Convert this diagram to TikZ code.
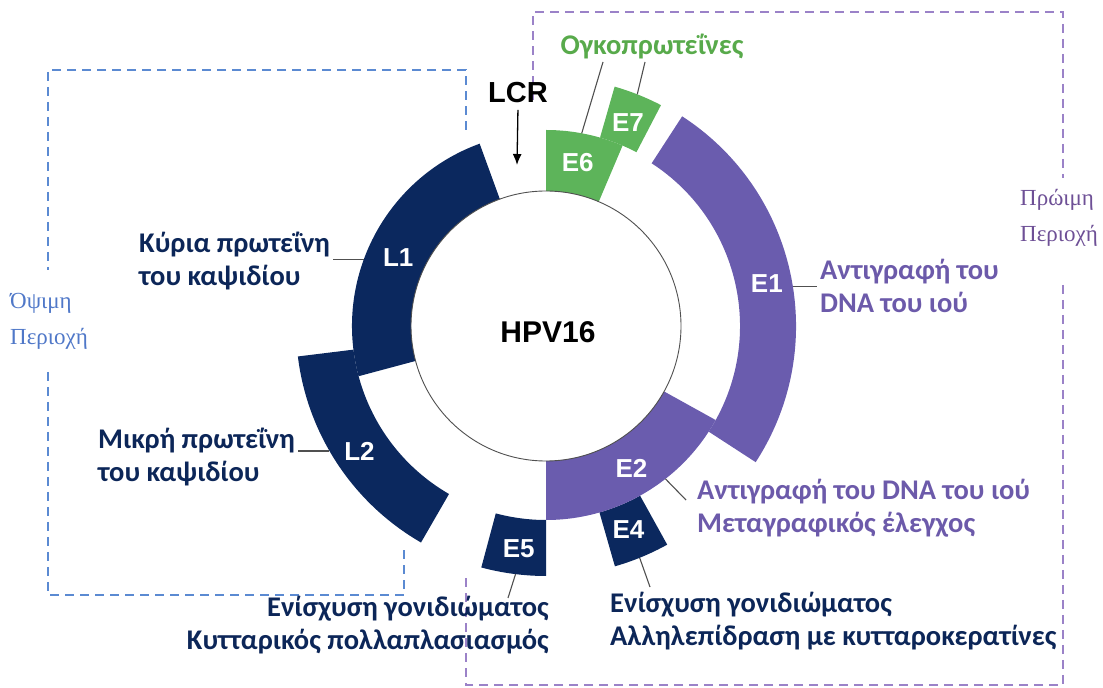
\documentclass[tikz,border=0pt]{standalone}
\usepackage{fontspec}
\setmainfont{Carlito}
\newfontfamily\arialfont{Liberation Sans}
\newfontfamily\timesfont{Liberation Serif}
\usepackage{tikz}
\usetikzlibrary{arrows,arrows.meta,positioning}

\definecolor{ringnavy}{RGB}{11,40,94}
\definecolor{ringpurple}{RGB}{106,92,174}
\definecolor{ringgreen}{RGB}{93,180,90}
\definecolor{txtnavy}{RGB}{12,38,88}
\definecolor{txtpurple}{RGB}{108,90,170}
\definecolor{txtgreen}{RGB}{88,170,75}
\definecolor{regblue}{RGB}{91,138,210}
\definecolor{regpurple}{RGB}{155,130,200}
\definecolor{regblutxt}{RGB}{80,120,200}
\definecolor{regpurtxt}{RGB}{110,80,150}
\definecolor{leadgray}{RGB}{80,80,80}

% one gene block of the ring: colour, start, end, inner r, outer r
\newcommand{\genearc}[5]{\fill[#1] (#2:#4) arc[start angle=#2,end angle=#3,radius=#4] -- (#3:#5) arc[start angle=#3,end angle=#2,radius=#5] -- cycle;}

\begin{document}
\begin{tikzpicture}[x=1pt,y=1pt,
  leader/.style={draw=leadgray,line width=1.1pt},
  ringlbl/.style={text=white,font=\arialfont\bfseries\fontsize{26}{30}\selectfont,inner sep=0pt},
  lbl/.style={font=\bfseries\fontsize{28.5}{33}\selectfont,inner sep=3pt},
  region/.style={font=\timesfont\fontsize{23}{36}\selectfont,align=left,inner sep=0pt},
  bluedash/.style={draw=regblue,line width=2pt,dash pattern=on 9pt off 6pt},
  purpdash/.style={draw=regpurple,line width=2pt,dash pattern=on 9pt off 6pt}]
\useasboundingbox (0,0) rectangle (1103,688);

% late and early regions
\draw[bluedash] (466,558) -- (466,618) -- (48,618) -- (48,418);
\draw[bluedash] (48,316) -- (48,93) -- (404,93) -- (404,143);
\draw[purpdash] (533,588) -- (533,676) -- (1063,676) -- (1063,510);
\draw[purpdash] (1063,403) -- (1063,3) -- (466,3) -- (466,113);
\node[region,text=regblutxt,anchor=west] (late) at (10,367) {Όψιμη\\Περιοχή};
\node[region,text=regpurtxt,anchor=west] (early) at (1020,470) {Πρώιμη\\Περιοχή};

% genome ring
\begin{scope}[shift={(546,362)}]
\fill[white] (0,0) circle (135);
\genearc{ringnavy}{110}{195}{135}{194}
\genearc{ringnavy}{187}{240}{194}{250}
\genearc{ringnavy}{255}{270}{194}{250}
\genearc{ringnavy}{286}{299}{194}{250}
\genearc{ringpurple}{270}{331}{135}{194}
\genearc{ringpurple}{-33}{57}{194}{250}
\genearc{ringgreen}{67}{90}{135}{196}
\genearc{ringgreen}{62.5}{74}{196}{249}
\draw[leadgray,line width=0.9pt] (0,0) circle (135);
\node[font=\arialfont\bfseries\fontsize{30}{32}\selectfont] (hpv) at (2,-6) {HPV16};
\node[ringlbl] (l1) at (155:163) {L1};
\node[ringlbl] (l2) at (214:225) {L2};
\node[ringlbl] (e5) at (263:224) {E5};
\node[ringlbl] (e4) at (292:220) {E4};
\node[ringlbl] (e2) at (301:166) {E2};
\node[ringlbl] (e1) at (11:225) {E1};
\node[ringlbl] (e6) at (79:166) {E6};
\node[ringlbl] (e7) at (68:219) {E7};
\coordinate (l1o) at (160:194);
\coordinate (l2o) at (210:250);
\coordinate (e5o) at (263:250);
\coordinate (e4o) at (292:250);
\coordinate (e2o) at (308:194);
\coordinate (e1o) at (9:250);
\coordinate (e6o) at (79.5:196);
\coordinate (e7o) at (68.5:249);
\end{scope}

% labels
\node[lbl,text=txtnavy,align=left,anchor=west] (kyria) at (136,427) {Κύρια πρωτεΐνη\\του καψιδίου};
\node[lbl,text=txtnavy,align=left,anchor=west] (mikri) at (95,231) {Μικρή πρωτεΐνη\\του καψιδίου};
\node[lbl,text=txtnavy,align=right,anchor=east] (e5txt) at (552,63) {Ενίσχυση γονιδιώματος\\Κυτταρικός πολλαπλασιασμός};
\node[lbl,text=txtnavy,align=left,anchor=west] (e4txt) at (607,67) {Ενίσχυση γονιδιώματος\\Αλληλεπίδραση με κυτταροκερατίνες};
\node[lbl,text=txtpurple,align=left,anchor=west] (e2txt) at (694,180) {Αντιγραφή του DNA του ιού\\Μεταγραφικός έλεγχος};
\node[lbl,text=txtpurple,align=left,anchor=west] (e1txt) at (817,402) {Αντιγραφή του\\DNA του ιού};
\node[lbl,text=txtgreen] (ogko) at (652,641) {Ογκοπρωτεΐνες};
\node[font=\arialfont\bfseries\fontsize{29}{30}\selectfont] (lcr) at (518,595) {LCR};
\coordinate (lcrtip) at (517,523);
\coordinate (e5t) at (508,90);
\coordinate (e4t) at (650,101);
\coordinate (e2t) at (686,188);
\coordinate (o6) at (603,626);
\coordinate (o7) at (645,626);

% leaders
\draw[leader] (l1o) -- (l1o -| kyria.east);
\draw[leader] (l2o) -- (l2o -| mikri.east);
\draw[leader] (e5o) -- (e5t);
\draw[leader] (e4o) -- (e4t);
\draw[leader] (e2o) -- (e2t);
\draw[leader] (e1o) -- (e1o -| e1txt.west);
\draw[leader] (e6o) -- (o6);
\draw[leader] (e7o) -- (o7);
\draw[-{Latex[length=11pt,width=9pt]},line width=1.3pt,shorten <=3pt] (lcr.south) -- (lcrtip);
\end{tikzpicture}
\end{document}
